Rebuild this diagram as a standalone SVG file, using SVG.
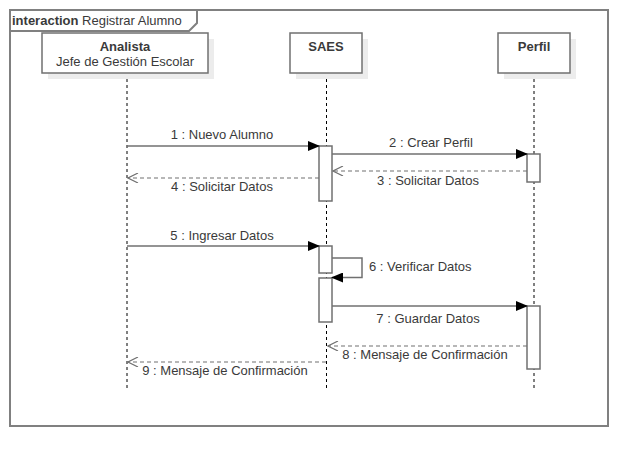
<svg xmlns="http://www.w3.org/2000/svg" width="642" height="466" viewBox="0 0 642 466">
<style>
text{font-family:"Liberation Sans",Arial,sans-serif;font-size:13px;fill:#3a3a3a}
.b{font-weight:bold}
.frame{fill:none;stroke:#808080;stroke-width:2}
.box{fill:#fff;stroke:#707070;stroke-width:1.5}
.shadow{fill:#ececec}
.life{stroke:#000;stroke-width:1;stroke-dasharray:3,3}
.act{fill:#fff;stroke:#707070;stroke-width:1.5}
.msg{stroke:#707070;stroke-width:1.5;fill:none}
.ret{stroke:#707070;stroke-width:1.2;fill:none;stroke-dasharray:4,3}
</style>
<defs>
<marker id="fill" markerWidth="12" markerHeight="10" refX="11" refY="5" orient="auto" markerUnits="userSpaceOnUse">
<path d="M0,0 L12,5 L0,10 Z" fill="#000"/>
</marker>
<marker id="open" markerWidth="12" markerHeight="10" refX="11" refY="5" orient="auto" markerUnits="userSpaceOnUse">
<path d="M1,0 L11,5 L1,10" fill="none" stroke="#707070" stroke-width="1.2"/>
</marker>
</defs>
<rect x="0" y="0" width="642" height="466" fill="#fff"/>
<g id="frame">
<rect class="frame" x="10" y="10" width="598" height="416"/>
<path class="frame" d="M10,31 L189,31 L197,23 L197,10"/>
<text x="12" y="25"><tspan class="b">interaction</tspan> Registrar Alumno</text>
</g>
<g id="lifelines">
<line class="life" x1="127" y1="73" x2="127" y2="390"/>
<line class="life" x1="326.5" y1="73" x2="326.5" y2="390"/>
<line class="life" x1="534" y1="73" x2="534" y2="390"/>
</g>
<g id="analista">
<rect class="shadow" x="48" y="39" width="166" height="40"/>
<rect class="box" x="42" y="33" width="166" height="40"/>
<text x="125" y="51" text-anchor="middle" class="b">Analista</text>
<text x="125" y="66" text-anchor="middle">Jefe de Gestión Escolar</text>
</g>
<g id="saes">
<rect class="shadow" x="296" y="39" width="72" height="40"/>
<rect class="box" x="290" y="33" width="72" height="40"/>
<text x="326" y="51" text-anchor="middle" class="b">SAES</text>
</g>
<g id="perfil">
<rect class="shadow" x="504" y="39" width="72" height="40"/>
<rect class="box" x="498" y="33" width="72" height="40"/>
<text x="534" y="51" text-anchor="middle" class="b">Perfil</text>
</g>
<g id="activations">
<rect class="act" x="319" y="146" width="13" height="55"/>
<rect class="act" x="527" y="154" width="13" height="28"/>
<rect class="act" x="319" y="246" width="13" height="27"/>
<rect class="act" x="319" y="278" width="13" height="44"/>
<rect class="act" x="527" y="306" width="13" height="63"/>
</g>
<g id="connectors">
<line class="msg" x1="127" y1="146" x2="319" y2="146" marker-end="url(#fill)"/>
<line class="msg" x1="332" y1="154" x2="527" y2="154" marker-end="url(#fill)"/>
<line class="ret" x1="527" y1="171" x2="333" y2="171" marker-end="url(#open)"/>
<line class="ret" x1="319" y1="178" x2="128" y2="178" marker-end="url(#open)"/>
<line class="msg" x1="127" y1="246" x2="319" y2="246" marker-end="url(#fill)"/>
<path class="msg" d="M332,258 L362,258 L362,277.5 L332,277.5" marker-end="url(#fill)"/>
<line class="msg" x1="332" y1="306" x2="527" y2="306" marker-end="url(#fill)"/>
<line class="ret" x1="527" y1="346" x2="328" y2="346" marker-end="url(#open)"/>
<line class="ret" x1="326" y1="362" x2="128" y2="362" marker-end="url(#open)"/>
</g>
<g id="labels">
<text x="222" y="139" text-anchor="middle">1 : Nuevo Alumno</text>
<text x="431" y="147" text-anchor="middle">2 : Crear Perfil</text>
<text x="428" y="185" text-anchor="middle">3 : Solicitar Datos</text>
<text x="222" y="191" text-anchor="middle">4 : Solicitar Datos</text>
<text x="222" y="240" text-anchor="middle">5 : Ingresar Datos</text>
<text x="369" y="271">6 : Verificar Datos</text>
<text x="428" y="323" text-anchor="middle">7 : Guardar Datos</text>
<text x="425" y="359" text-anchor="middle">8 : Mensaje de Confirmación</text>
<text x="225" y="375" text-anchor="middle">9 : Mensaje de Confirmación</text>
</g>
</svg>
